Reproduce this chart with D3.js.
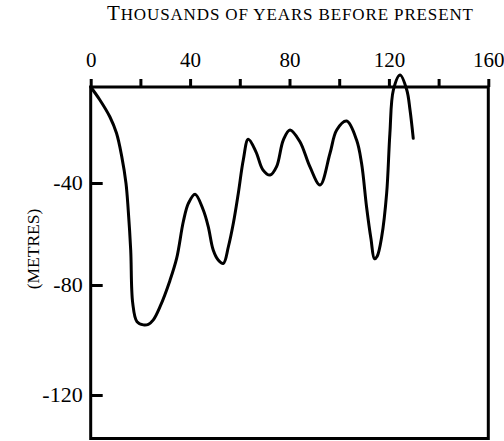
<!DOCTYPE html>
<html>
<head>
<meta charset="utf-8">
<script src="https://cdn.jsdelivr.net/npm/d3@7"></script>
<style>
  html, body { margin: 0; padding: 0; background: #fff; }
  svg { display: block; }
  text { font-family: "Liberation Serif", "Times New Roman", serif; fill: #000; }
</style>
</head>
<body>
<svg id="chart" width="504" height="441"></svg>
<script>
// Data (thousands of years before present, sea level in metres)
const ages = [0, 3.7, 7.7, 10.4, 12.5, 14.2, 15.1, 16.1, 16.9, 18.6, 21.2, 23.2, 25.2, 27.9, 31.9, 34.6, 37.3, 39.3, 42, 45.3, 47.3, 49.3, 51.3, 53.4, 55.4, 57.4, 59.4, 61.4, 63.4, 66.5, 69.3, 72.2, 74.8, 77.5, 80.2, 84.2, 88.2, 92.3, 96.3, 99, 103, 107, 109, 111, 112.8, 114.2, 115.3, 117.1, 119.1, 120.4, 121.8, 124.5, 127.2, 128.5, 129.8];
const levels = [0, -5.4, -12.4, -19.3, -29, -40.1, -50.6, -66.3, -86.5, -93.3, -94.5, -94.3, -92.7, -87.9, -78.2, -69.5, -55, -48, -44.4, -50.6, -57.1, -66.3, -70.2, -71.5, -65, -55.8, -44, -30.4, -21.8, -27, -34.5, -36.7, -33.2, -22.1, -17.9, -22.8, -33.2, -40.8, -27.6, -17.9, -14.2, -22.1, -31.8, -49.3, -62, -69.7, -68.7, -61.1, -44, -19.3, -1.25, 5, -1.25, -9.6, -21.4];
const xTickValues = [0, 20, 40, 60, 80, 100, 120, 140, 160];
const xTickLabels = ["0", "", "40", "", "80", "", "120", "", "160"];
const yTickValues = [-40, -80, -120];
const yTickLabels = ["-40", "-80", "-120"];
const titleFirst = "T";
const titleRest = "HOUSANDS OF YEARS BEFORE PRESENT";
const yTitle = "(METRES)";

const svg = d3.select("#chart");
const pLeft = 90.7, pRight = 488.3, pTop = 87, pBottom = 438.5;

const x = d3.scaleLinear().domain([0, 160]).range([pLeft, pRight]);
// the printed axis is slightly non-uniform; follow tick positions
const y = d3.scaleLinear().domain([0, -40, -80, -120]).range([pTop, 183, 285, 395]);

// frame
svg.append("rect")
  .attr("x", pLeft).attr("y", pTop)
  .attr("width", pRight - pLeft).attr("height", pBottom - pTop)
  .attr("fill", "none").attr("stroke", "#000").attr("stroke-width", 3);

// top axis
const xAxis = d3.axisTop(x).tickValues(xTickValues)
  .tickFormat((d, i) => xTickLabels[i]).tickSize(8).tickPadding(12);
const gx = svg.append("g").attr("transform", `translate(0,${pTop})`).call(xAxis);
gx.select(".domain").remove();
gx.selectAll(".tick line").attr("stroke", "#000").attr("stroke-width", 3);
gx.selectAll(".tick text").attr("font-size", 21).attr("font-family", "Liberation Serif");

// left axis (ticks pointing inward)
const yAxis = d3.axisRight(y).tickValues(yTickValues)
  .tickFormat((d, i) => yTickLabels[i]).tickSize(12);
const gy = svg.append("g").attr("transform", `translate(${pLeft},0)`).call(yAxis);
gy.select(".domain").remove();
gy.selectAll(".tick line").attr("stroke", "#000").attr("stroke-width", 3);
gy.selectAll(".tick text")
  .attr("x", -8).attr("dy", "0.3em")
  .attr("text-anchor", "end")
  .attr("font-size", 22).attr("font-family", "Liberation Serif");

// curve
const pts = ages.map((a, i) => [a, levels[i]]);
const line = d3.line().x(d => x(d[0])).y(d => y(d[1])).curve(d3.curveCatmullRom.alpha(0.5));
svg.append("path").datum(pts)
  .attr("d", line).attr("fill", "none").attr("stroke", "#000")
  .attr("stroke-width", 3).attr("stroke-linejoin", "round").attr("stroke-linecap", "round");

// title (small caps)
const t = svg.append("text")
  .attr("x", 107).attr("y", 20)
  .attr("textLength", 366).attr("lengthAdjust", "spacing");
t.append("tspan").attr("font-size", 21).text(titleFirst);
t.append("tspan").attr("font-size", 17).text(titleRest);

// y title
svg.append("text")
  .attr("transform", "translate(39,249) rotate(-90)")
  .attr("text-anchor", "middle")
  .attr("font-size", 17.5)
  .text(yTitle);
</script>
</body>
</html>
